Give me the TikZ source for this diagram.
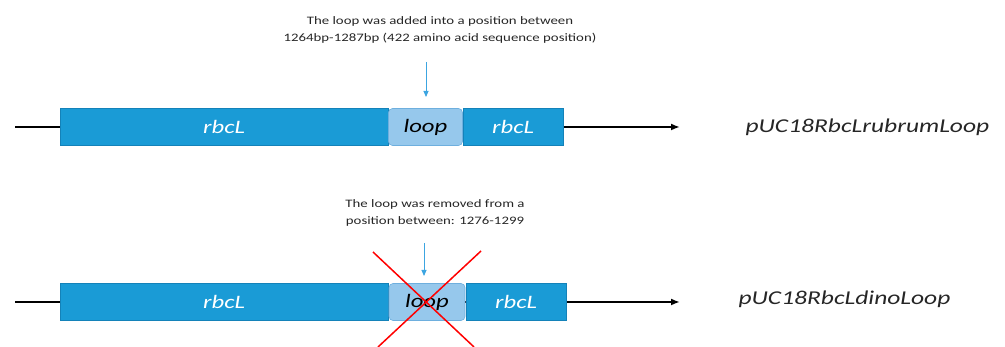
\documentclass[tikz,border=0pt]{standalone}
\usepackage{fontspec}
\setmainfont{Carlito}
\newfontfamily\widefont[FakeStretch=1.3]{Carlito}
\usetikzlibrary{arrows.meta}
\definecolor{gene}{RGB}{26,155,214}
\definecolor{geneedge}{RGB}{20,130,185}
\definecolor{loopfill}{RGB}{150,200,236}
\definecolor{loopedge}{RGB}{110,175,222}
\definecolor{pointer}{RGB}{60,165,225}
\tikzset{
  genebox/.style={draw=geneedge, fill=gene, line width=0.6pt, minimum height=37pt,
    inner sep=0pt, text=white, font=\widefont\itshape\fontsize{19}{19}\selectfont},
  loopbox/.style={draw=loopedge, fill=loopfill, line width=0.6pt, rounded corners=4pt,
    minimum height=37pt, inner sep=0pt, text=black, font=\widefont\itshape\fontsize{19}{19}\selectfont},
  backbone/.style={line width=1.8pt, -{Latex[length=9pt,width=7pt]}},
  pointer/.style={draw=pointer, line width=0.9pt, -{Triangle[length=6pt,width=5pt]}},
  note/.style={align=center, font=\widefont\fontsize{11.4}{16.5}\selectfont, text=black!85},
  plasmid/.style={anchor=west, font=\widefont\itshape\fontsize{19.6}{19.6}\selectfont, text=black!85},
  cross/.style={draw=red, line width=1.5pt}
}
\begin{document}
\begin{tikzpicture}[x=1pt, y=-1pt]
\useasboundingbox (0,0) rectangle (1005,347);

% ---- construct with the added loop ----
\coordinate (s1) at (15,127);
\coordinate (e1) at (680,127);
\draw[backbone] (s1) -- (e1);
\node[genebox, minimum width=328pt] (a1) at (224,127) {rbcL};
\node[loopbox, minimum width=74pt] (l1) at (425.5,127) {loop};
\node[genebox, minimum width=100pt] (b1) at (513,127) {rbcL};
\node[plasmid] (p1) at (742,127) {pUC18RbcLrubrumLoop};
\node[note] (n1) at (440,30) {The loop was added into a position between\\1264bp-1287bp (422 amino acid sequence position)};
\coordinate (t1) at (426,62);
\coordinate (h1) at (426,97);
\draw[pointer] (t1) -- (h1);

% ---- construct with the loop removed ----
\coordinate (s2) at (15,302);
\coordinate (e2) at (680,302);
\draw[backbone] (s2) -- (e2);
\node[genebox, minimum width=328pt] (a2) at (224,302) {rbcL};
\node[loopbox, minimum width=76pt] (l2) at (427,302) {loop};
\node[genebox, minimum width=100pt] (b2) at (516,302) {rbcL};
\node[plasmid] (p2) at (735,299) {pUC18RbcLdinoLoop};
\node[note] (n2) at (435,213) {The loop was removed from a\\position between: 1276-1299};
\coordinate (t2) at (424,243);
\coordinate (h2) at (424,276);
\draw[pointer] (t2) -- (h2);

% red cross over the removed loop
\coordinate (x1) at (373,252);
\coordinate (x2) at (474,347);
\coordinate (x3) at (481,251);
\coordinate (x4) at (378,347);
\draw[cross] (x1) -- (x2);
\draw[cross] (x3) -- (x4);
\end{tikzpicture}
\end{document}
